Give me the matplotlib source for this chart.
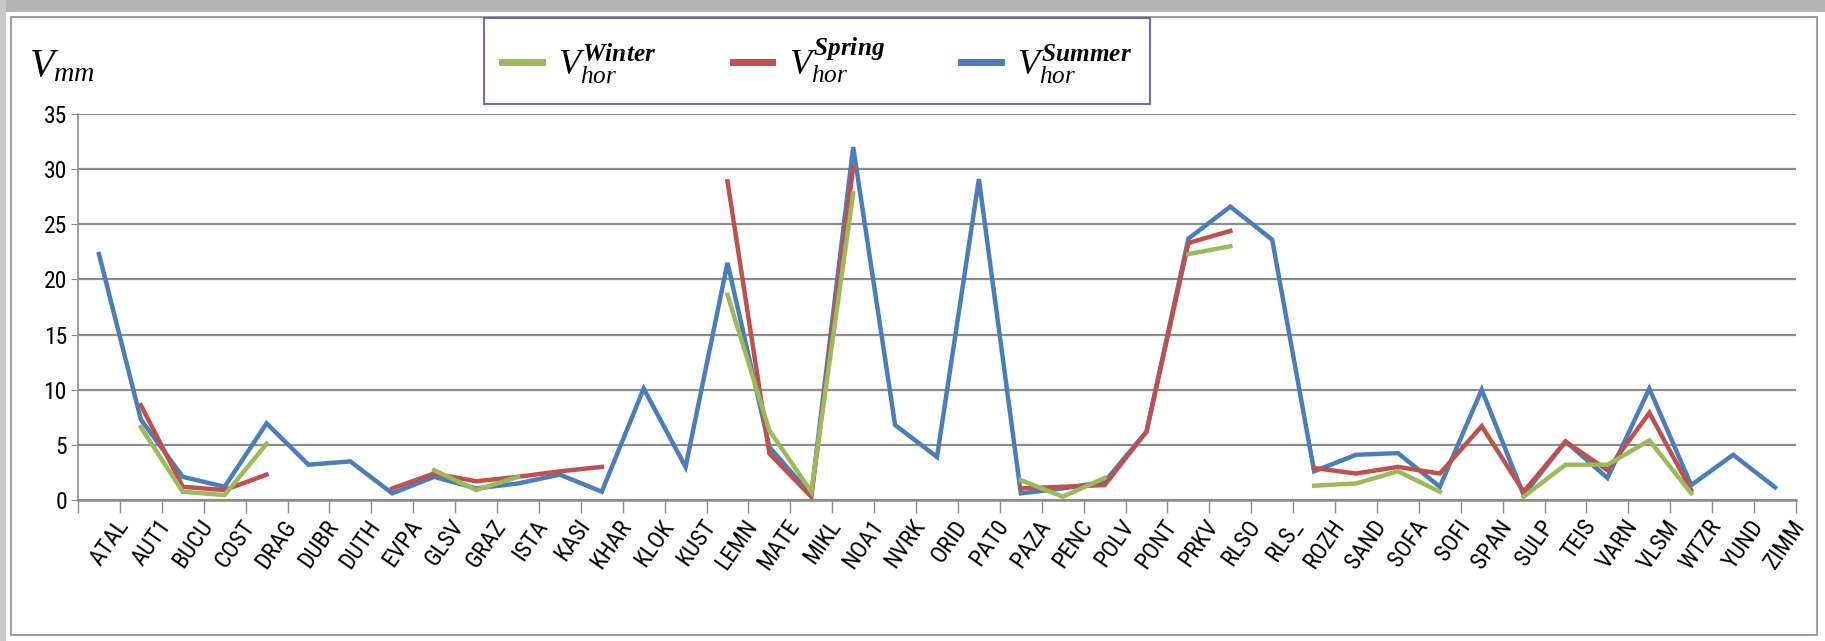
import numpy as np
import matplotlib
matplotlib.use('Agg')
import matplotlib.pyplot as plt
from matplotlib.patches import Rectangle
import matplotlib.transforms as mtransforms

nan = np.nan
stations = ['ATAL', 'AUT1', 'BUCU', 'COST', 'DRAG', 'DUBR', 'DUTH', 'EVPA', 'GLSV', 'GRAZ',
            'ISTA', 'KASI', 'KHAR', 'KLOK', 'KUST', 'LEMN', 'MATE', 'MIKL', 'NOA1', 'NVRK',
            'ORID', 'PAT0', 'PAZA', 'PENC', 'POLV', 'PONT', 'PRKV', 'RLSO', 'RLS_', 'ROZH',
            'SAND', 'SOFA', 'SOFI', 'SPAN', 'SULP', 'TEIS', 'VARN', 'VLSM', 'WTZR', 'YUND', 'ZIMM']

summer = [22.3, 7.3, 2.1, 1.2, 6.95, 3.2, 3.5, 0.6, 2.1, 1.05,
          1.5, 2.3, 0.75, 10.1, 3.0, 21.5, 4.8, 0.45, 32.0, 6.8,
          3.9, 29.1, 0.6, 1.05, 1.65, 6.2, 23.7, 26.6, 23.6, 2.6,
          4.1, 4.25, 1.2, 10.0, 0.45, 5.3, 2.0, 10.1, 1.35, 4.1, 1.15]

spring = [nan, 8.6, 1.2, 0.9, 2.3, nan, nan, 1.05, 2.4, 1.7,
          2.1, 2.6, 3.0, nan, nan, 28.9, 4.2, 0.3, 30.2, nan,
          nan, nan, 1.05, 1.2, 1.35, 6.2, 23.3, 24.4, nan, 2.9,
          2.4, 3.0, 2.4, 6.7, 0.75, 5.3, 2.7, 7.9, 0.9, nan, nan]

winter = [nan, 6.6, 0.75, 0.45, 5.1, nan, nan, nan, 2.7, 0.9,
          2.1, nan, nan, nan, nan, 18.6, 6.3, 0.75, 27.8, nan,
          nan, nan, 1.8, 0.3, 2.0, nan, 22.3, 23.0, nan, 1.3,
          1.5, 2.6, 0.75, nan, 0.3, 3.2, 3.2, 5.4, 0.6, nan, nan]

yticks = [0, 5, 10, 15, 20, 25, 30, 35]

plt.rcParams['mathtext.fontset'] = 'custom'
plt.rcParams['mathtext.rm'] = 'Liberation Serif'
plt.rcParams['mathtext.it'] = 'Liberation Serif:italic'
plt.rcParams['mathtext.bf'] = 'Liberation Serif:italic:bold'

tick_family = ['Liberation Sans Narrow', 'Roboto Condensed', 'Liberation Sans']

W, H = 1825, 641
fig = plt.figure(figsize=(W / 100, H / 100), dpi=100)
fig.patch.set_facecolor('white')

# screenshot-like frame
fig.patches.append(Rectangle((0, 1 - 12 / H), 1, 12 / H, transform=fig.transFigure,
                             facecolor='#b4b4b4', edgecolor='none', zorder=0))
fig.patches.append(Rectangle((0, 0), 6 / W, 1, transform=fig.transFigure,
                             facecolor='#c8c8c8', edgecolor='none', zorder=0))
fig.patches.append(Rectangle((11 / W, 6 / H), (1817 - 11) / W, (624 - 6) / H,
                             transform=fig.transFigure, facecolor='none',
                             edgecolor='#a0a0a0', lw=1.5, zorder=0))

left, right = 78 / W, 1796 / W
bottom, top = 1 - 500 / H, 1 - 114 / H
ax = fig.add_axes([left, bottom, right - left, top - bottom])

x = np.arange(len(stations))
c_win, c_spr, c_sum = '#9BBB59', '#C0504D', '#4A7EBB'
lw = 3.2
l_sum, = ax.plot(x, summer, color=c_sum, lw=lw, zorder=3, solid_joinstyle='miter')
l_spr, = ax.plot(x, spring, color=c_spr, lw=lw, zorder=4, solid_joinstyle='miter')
l_win, = ax.plot(x, winter, color=c_win, lw=lw, zorder=5, solid_joinstyle='miter')

ax.set_xlim(-0.5, len(stations) - 0.5)
ax.set_ylim(0, 35)
ax.set_yticks(yticks)
ax.set_yticklabels([str(v) for v in yticks], fontsize=17, family=tick_family)
ax.grid(axis='y', color='#8c8c8c', lw=1.6, zorder=1)
ax.set_axisbelow(True)

for s in ['top', 'right']:
    ax.spines[s].set_visible(False)
ax.spines['left'].set_color('#8c8c8c')
ax.spines['left'].set_linewidth(1.2)
ax.spines['bottom'].set_color('#8c8c8c')
ax.spines['bottom'].set_linewidth(1.8)
ax.tick_params(axis='y', length=5, color='#8c8c8c', pad=3)

ax.set_xticks(x)
ax.set_xticks(np.arange(-0.5, len(stations), 1.0), minor=True)
ax.tick_params(axis='x', which='major', length=0, pad=4)
ax.tick_params(axis='x', which='minor', length=9, color='#8c8c8c', width=1.0)
labels = ax.set_xticklabels(stations, rotation=55, ha='right', va='top',
                            rotation_mode='anchor', fontsize=17, family=tick_family)
offset = mtransforms.ScaledTranslation(16 / 100, -10 / 100, fig.dpi_scale_trans)
for lab in labels:
    lab.set_transform(lab.get_transform() + offset)

fig.text(29 / W, 1 - 76 / H, r'$V_{mm}$', fontsize=29, ha='left', va='baseline')

leg = fig.legend([l_win, l_spr, l_sum],
                 [r'$V_{hor}^{\mathbf{Winter}}$', r'$V_{hor}^{\mathbf{Spring}}$',
                  r'$V_{hor}^{\mathbf{Summer}}$'],
                 loc='center', mode='expand',
                 bbox_to_anchor=(484 / W, 1 - 101 / H, (1150 - 484) / W, 80 / H),
                 ncol=3, fontsize=26, frameon=True, fancybox=False, handlelength=1.1,
                 handletextpad=0.45, columnspacing=2.0, borderpad=0.5, borderaxespad=0)
leg.get_frame().set_edgecolor('#4a4aa8')
leg.get_frame().set_linewidth(1.5)
for h in leg.legend_handles:
    h.set_linewidth(5)

fig.savefig('out.png', dpi=100)
